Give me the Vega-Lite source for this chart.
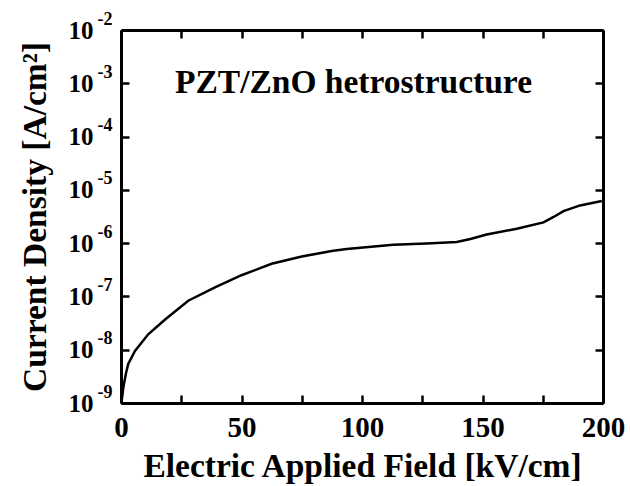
{
  "$schema": "https://vega.github.io/schema/vega-lite/v6.json",
  "width": 482,
  "height": 373,
  "autosize": "none",
  "padding": {"left": 121, "top": 30, "right": 27, "bottom": 83},
  "background": "white",
  "config": {
    "view": {"stroke": null},
    "font": "Liberation Serif",
    "axis": {
      "grid": false,
      "domainColor": "black",
      "domainWidth": 3,
      "tickColor": "black",
      "tickWidth": 2.5,
      "tickSize": -8,
      "labelColor": "black",
      "titleColor": "black",
      "labelFont": "Liberation Serif",
      "titleFont": "Liberation Serif",
      "labelFontWeight": "bold",
      "titleFontWeight": "bold"
    }
  },
  "datasets": {
    "jv": [
      {"E": 0.3, "J": 1.1e-9},
      {"E": 1, "J": 2.0e-9},
      {"E": 2, "J": 3.5e-9},
      {"E": 3, "J": 5.4e-9},
      {"E": 5.8, "J": 9.5e-9},
      {"E": 11.3, "J": 1.95e-8},
      {"E": 18.3, "J": 3.7e-8},
      {"E": 27.9, "J": 8.3e-8},
      {"E": 39, "J": 1.48e-7},
      {"E": 50, "J": 2.5e-7},
      {"E": 62.5, "J": 4.1e-7},
      {"E": 75, "J": 5.6e-7},
      {"E": 87.4, "J": 7.1e-7},
      {"E": 93.6, "J": 7.8e-7},
      {"E": 113, "J": 9.3e-7},
      {"E": 126.8, "J": 9.8e-7},
      {"E": 139.3, "J": 1.05e-6},
      {"E": 145, "J": 1.2e-6},
      {"E": 151.7, "J": 1.45e-6},
      {"E": 164.2, "J": 1.86e-6},
      {"E": 175.3, "J": 2.45e-6},
      {"E": 179.5, "J": 3.1e-6},
      {"E": 183.6, "J": 4.0e-6},
      {"E": 190.5, "J": 5.1e-6},
      {"E": 199.5, "J": 6.2e-6}
    ],
    "note": [{"E": 22.4, "J": 0.00065, "label": "PZT/ZnO hetrostructure"}]
  },
  "layer": [
    {
      "data": {"name": "jv"},
      "mark": {"type": "line", "color": "black", "strokeWidth": 2.5},
      "encoding": {
        "x": {
          "field": "E", "type": "quantitative",
          "scale": {"domain": [0, 200], "nice": false, "zero": false},
          "axis": {
            "orient": "bottom",
            "values": [0, 25, 50, 75, 100, 125, 150, 175, 200],
            "labelExpr": "datum.value % 50 == 0 ? datum.label : ''",
            "labelFontSize": 29,
            "labelPadding": 18,
            "labelFlush": false,
            "title": "Electric Applied Field [kV/cm]",
            "titleFontSize": 33.5,
            "titlePadding": 8
          }
        },
        "y": {
          "field": "J", "type": "quantitative",
          "scale": {"type": "log", "domain": [1e-9, 1e-2], "nice": false},
          "axis": {
            "orient": "left",
            "values": [1e-9, 1e-8, 1e-7, 1e-6, 1e-5, 1e-4, 1e-3, 1e-2],
            "labelExpr": "'10'",
            "labelFontSize": 25,
            "labelPadding": 36,
            "labelFlush": false,
            "title": "Current Density [A/cm²]",
            "titleFontSize": 33.5,
            "titlePadding": 16
          }
        }
      }
    },
    {
      "data": {"name": "jv"},
      "mark": {"type": "line", "opacity": 0},
      "encoding": {
        "x": {
          "field": "E", "type": "quantitative",
          "scale": {"domain": [0, 200], "nice": false, "zero": false},
          "axis": {"orient": "top", "values": [0, 25, 50, 75, 100, 125, 150, 175, 200], "labels": false, "title": null}
        },
        "y": {
          "field": "J", "type": "quantitative",
          "scale": {"type": "log", "domain": [1e-9, 1e-2], "nice": false},
          "axis": {"orient": "right", "values": [1e-9, 1e-8, 1e-7, 1e-6, 1e-5, 1e-4, 1e-3, 1e-2], "labels": false, "title": null}
        }
      }
    },
    {
      "data": {"name": "jv"},
      "mark": {"type": "line", "opacity": 0},
      "encoding": {
        "x": {"field": "E", "type": "quantitative", "axis": null},
        "y": {
          "field": "J", "type": "quantitative",
          "scale": {"type": "log", "domain": [1e-9, 1e-2], "nice": false},
          "axis": {
            "orient": "left",
            "values": [1e-9, 1e-8, 1e-7, 1e-6, 1e-5, 1e-4, 1e-3, 1e-2],
            "labelExpr": "'-' + (-round(log(datum.value)/LN10))",
            "labelFontSize": 18,
            "labelAlign": "right",
            "labelPadding": 9,
            "labelOffset": -11,
            "labelFlush": false,
            "domain": false,
            "ticks": false,
            "title": null
          }
        }
      }
    },
    {
      "data": {"name": "note"},
      "mark": {"type": "text", "align": "left", "baseline": "alphabetic", "font": "Liberation Serif", "fontWeight": "bold", "fontSize": 33.5, "color": "black"},
      "encoding": {
        "x": {"field": "E", "type": "quantitative", "axis": null},
        "y": {"field": "J", "type": "quantitative", "axis": null},
        "text": {"field": "label"}
      }
    }
  ],
  "resolve": {"axis": {"x": "independent", "y": "independent"}}
}
